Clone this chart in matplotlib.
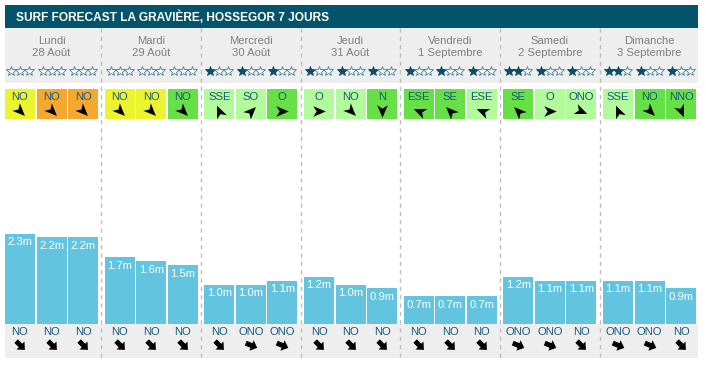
import matplotlib
matplotlib.use("Agg")
import matplotlib.pyplot as plt
from matplotlib.patches import Rectangle
from matplotlib.path import Path
from matplotlib.markers import MarkerStyle
from matplotlib.transforms import Affine2D

plt.rcParams['font.family'] = ['Liberation Sans', 'DejaVu Sans']

# ---------------- data ----------------
title = "SURF FORECAST LA GRAVIÈRE, HOSSEGOR 7 JOURS"
day_names = ["Lundi", "Mardi", "Mercredi", "Jeudi", "Vendredi", "Samedi", "Dimanche"]
day_dates = ["28 Août", "29 Août", "30 Août", "31 Août", "1 Septembre", "2 Septembre", "3 Septembre"]
stars = [[0, 0, 0], [0, 0, 0], [1, 1, 1], [1, 1, 1], [1, 1, 1], [2, 1, 1], [2, 1, 1]]
wind_dir = [["NO", "NO", "NO"], ["NO", "NO", "NO"], ["SSE", "SO", "O"], ["O", "NO", "N"],
            ["ESE", "SE", "ESE"], ["SE", "O", "ONO"], ["SSE", "NO", "NNO"]]
wind_rating = [["yellow", "orange", "orange"], ["yellow", "yellow", "green"],
               ["light", "light", "green"], ["light", "light", "green"],
               ["green", "green", "light"], ["green", "light", "light"],
               ["light", "green", "green"]]
wave_height = [[2.3, 2.2, 2.2], [1.7, 1.6, 1.5], [1.0, 1.0, 1.1], [1.2, 1.0, 0.9],
               [0.7, 0.7, 0.7], [1.2, 1.1, 1.1], [1.1, 1.1, 0.9]]
swell_dir = [["NO", "NO", "NO"], ["NO", "NO", "NO"], ["NO", "ONO", "ONO"], ["NO", "NO", "NO"],
             ["NO", "NO", "NO"], ["ONO", "ONO", "NO"], ["ONO", "ONO", "NO"]]

# ---------------- styles ----------------
compass = {"N": 0, "NNE": 22.5, "NE": 45, "ENE": 67.5, "E": 90, "ESE": 112.5, "SE": 135,
           "SSE": 157.5, "S": 180, "SSO": 202.5, "SO": 225, "OSO": 247.5, "O": 270,
           "ONO": 292.5, "NO": 315, "NNO": 337.5}
rating_colors = {"yellow": "#ecf42f", "orange": "#f5a830", "green": "#67df46", "light": "#b2fa9c"}
TEAL = "#03546a"
TXT = "#17597a"
GRAY_BG = "#eeeeee"
BAR = "#63c4df"
STAR_FILL = "#0c4b64"
STAR_EDGE = "#3f7f9f"

W, H = 706, 366
P = 99.67
OFFS = [0, 31.5, 63]
BW = 30
BASE = 323.7
PXM = 39.2
TOPB = 125

def xleft(d, k):
    return 5 + P * d + OFFS[k]

def xcenter(d, k):
    return xleft(d, k) + BW / 2

def arrow_angle(lbl):
    return -90 - compass[lbl]

wind_path = Path([(1, 0), (-1, 0.85), (-0.45, 0), (-1, -0.85), (1, 0)],
                 [Path.MOVETO, Path.LINETO, Path.LINETO, Path.LINETO, Path.CLOSEPOLY])
swell_path = Path([(-1, -0.4), (0.0, -0.4), (0.0, -0.9), (1, 0), (0.0, 0.9),
                   (0.0, 0.4), (-1, 0.4), (-1, -0.4)],
                  [Path.MOVETO] + [Path.LINETO] * 6 + [Path.CLOSEPOLY])

fig = plt.figure(figsize=(W / 100, H / 100), dpi=100)
ax = fig.add_axes([0, 0, 1, 1])
ax.set_xlim(0, W)
ax.set_ylim(H, 0)
ax.axis('off')

# title bar
ax.add_patch(Rectangle((5, 5), 693, 23, facecolor=TEAL, edgecolor='none'))
ax.text(16, 16.8, title, color='white', fontsize=8.6, fontweight='bold', va='center', ha='left')

# gray header and footer
ax.add_patch(Rectangle((5, 28), 693, 55, facecolor=GRAY_BG, edgecolor='none', zorder=0))
ax.add_patch(Rectangle((5, BASE), 693, 358 - BASE, facecolor=GRAY_BG, edgecolor='none', zorder=0))

# dividers
for d in range(1, 7):
    x = 5 + P * d - 3.3
    ax.plot([x, x], [28, 358], color='#bdbdbd', lw=1, ls=(0, (3, 3)), zorder=1)

FS = 8.1
for d in range(7):
    dc = xcenter(d, 1)
    ax.text(dc, 40.5, day_names[d], color='#808080', fontsize=FS, ha='center', va='center')
    ax.text(dc, 52.5, day_dates[d], color='#808080', fontsize=FS, ha='center', va='center')
    for k in range(3):
        xc = xcenter(d, k)
        # stars
        for s in range(3):
            filled = s < stars[d][k]
            ax.plot(xc - 9 + 9 * s, 71, marker='*', markersize=7.0,
                    markerfacecolor=STAR_FILL if filled else 'white',
                    markeredgecolor=STAR_FILL if filled else STAR_EDGE,
                    markeredgewidth=0.6, zorder=3)
        # wind box
        ax.add_patch(Rectangle((xleft(d, k), 89), BW, 30,
                               facecolor=rating_colors[wind_rating[d][k]], edgecolor='none', zorder=2))
        ax.text(xc, 96.8, wind_dir[d][k], color=TXT, fontsize=FS, ha='center', va='center', zorder=3)
        ms = MarkerStyle(wind_path, transform=Affine2D().rotate_deg(arrow_angle(wind_dir[d][k])))
        ax.plot(xc, 110.5, marker=ms, markersize=9.0, color='black', markeredgewidth=0, zorder=3)
        # swell
        ax.text(xc, 332, swell_dir[d][k], color=TXT, fontsize=FS, ha='center', va='center', zorder=3)
        ms2 = MarkerStyle(swell_path, transform=Affine2D().rotate_deg(arrow_angle(swell_dir[d][k])))
        ax.plot(xc, 345, marker=ms2, markersize=9, color='black', markeredgewidth=0, zorder=3)

# bars
axb = fig.add_axes([0, (H - BASE) / H, 1, (BASE - TOPB) / H])
axb.set_xlim(0, W)
axb.set_ylim(0, (BASE - TOPB) / PXM)
axb.axis('off')
axb.patch.set_alpha(0)
xs, hs = [], []
for d in range(7):
    for k in range(3):
        xs.append(xcenter(d, k))
        hs.append(wave_height[d][k])
axb.bar(xs, hs, width=BW, color=BAR, edgecolor='none')
for x, h in zip(xs, hs):
    axb.annotate(f"{h:.1f}m", (x, h), xytext=(0, -6.3), textcoords='offset points',
                 ha='center', va='center', color='white', fontsize=FS)

fig.savefig("out.png", dpi=100)
